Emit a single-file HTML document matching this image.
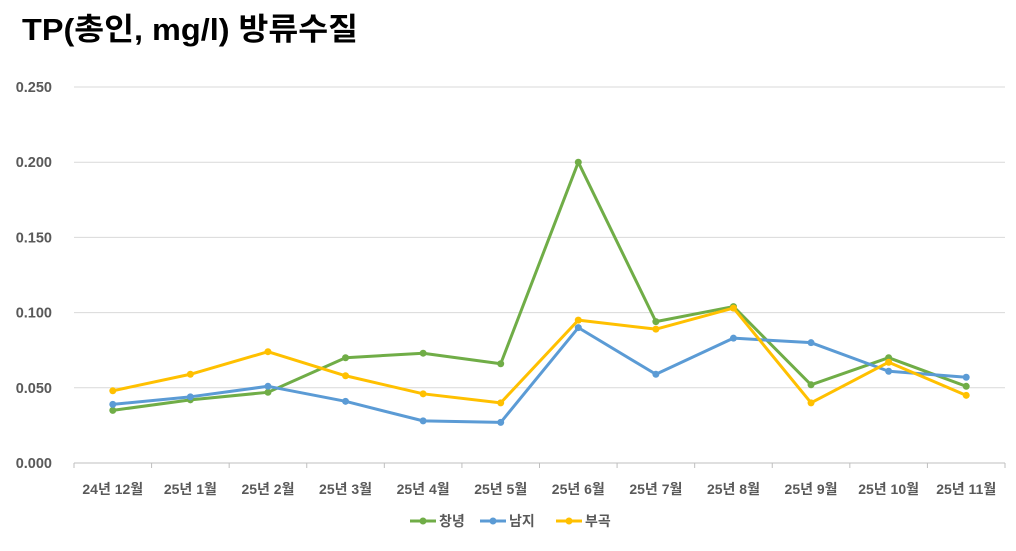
<!DOCTYPE html>
<html><head><meta charset="utf-8"><style>
body{margin:0;background:#fff;width:1016px;height:546px;overflow:hidden;font-family:"Liberation Sans","Noto Sans CJK KR",sans-serif}
</style></head><body>
<svg id="c" width="1016" height="546" xmlns="http://www.w3.org/2000/svg">
<text x="22" y="40" font-size="31" font-weight="bold" fill="#000" textLength="336" lengthAdjust="spacingAndGlyphs" font-family="Liberation Sans, Noto Sans CJK KR, sans-serif">TP(총인, mg/l) 방류수질</text>
</svg>
<script>
const categories=["24년 12월","25년 1월","25년 2월","25년 3월","25년 4월","25년 5월","25년 6월","25년 7월","25년 8월","25년 9월","25년 10월","25년 11월"];
const changnyeong=[0.035,0.042,0.047,0.070,0.073,0.066,0.200,0.094,0.104,0.052,0.070,0.051];
const namji=[0.039,0.044,0.051,0.041,0.028,0.027,0.090,0.059,0.083,0.080,0.061,0.057];
const bugok=[0.048,0.059,0.074,0.058,0.046,0.040,0.095,0.089,0.103,0.040,0.067,0.045];
const yTicks=[0,0.05,0.1,0.15,0.2,0.25];
const yLabels=["0.000","0.050","0.100","0.150","0.200","0.250"];
const seriesNames=["창녕","남지","부곡"];
const svg=document.getElementById('c');const NS="http://www.w3.org/2000/svg";
const x0=74,x1=1005,y0=463,y1=87;
const cw=(x1-x0)/categories.length;
const X=i=>x0+cw*(i+0.5);const Y=v=>y0-(v/0.25)*(y0-y1);
function mk(t,a,p){const e=document.createElementNS(NS,t);for(const k in a)e.setAttribute(k,a[k]);(p||svg).appendChild(e);return e;}
yTicks.forEach((v,i)=>{
 const l=mk('line',{x1:x0,x2:x1,y1:Y(v),y2:Y(v),stroke:i==0?'#bfbfbf':'#d9d9d9','stroke-width':1});
 
 
 const t=mk('text',{x:52,y:Y(v)+5,'text-anchor':'end','font-size':14.5,'font-weight':'bold',fill:'#595959'});t.textContent=yLabels[i];
 
 
});
categories.forEach((c,i)=>{
 const tk=mk('line',{x1:x0+cw*i,x2:x0+cw*i,y1:y0,y2:y0+5,stroke:'#bfbfbf'});
 
 
 const t=mk('text',{x:X(i),y:494,'text-anchor':'middle','font-size':14,'font-weight':'bold',fill:'#595959'});t.textContent=c;
 
 
});
const tkEnd=mk('line',{x1:x1,x2:x1,y1:y0,y2:y0+5,stroke:'#bfbfbf'});


const series=[changnyeong,namji,bugok];const colors=["#70ad47","#5b9bd5","#ffc000"];
series.forEach((s,k)=>{
 const g=mk('g',{});
 
 
 const p=mk('polyline',{points:s.map((v,i)=>X(i)+','+Y(v)).join(' '),fill:'none',stroke:colors[k],'stroke-width':3,'stroke-linejoin':'round'},g);
 
 
 s.forEach((v,i)=>{const c=mk('circle',{cx:X(i),cy:Y(v),r:3.5,fill:colors[k]},g);
  
  });
});
const lx=[410,480,556];
seriesNames.forEach((n,k)=>{
 const g=mk('g',{});
 
 
 mk('line',{x1:lx[k],x2:lx[k]+26,y1:521,y2:521,stroke:colors[k],'stroke-width':3},g);
 mk('circle',{cx:lx[k]+13,cy:521,r:3.5,fill:colors[k]},g);
 const t=mk('text',{x:lx[k]+29,y:526,'font-size':14,'font-weight':'bold',fill:'#595959'},g);t.textContent=n;
});
</script>
</body></html>
